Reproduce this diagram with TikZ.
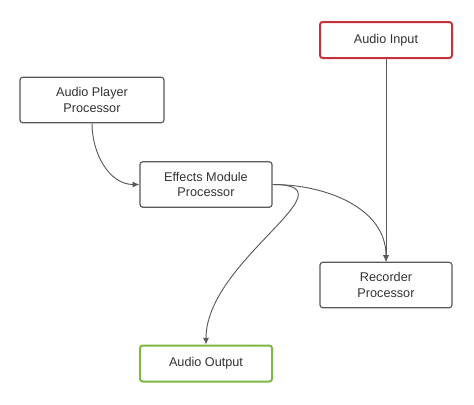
\documentclass[tikz,border=0pt]{standalone}
\usepackage{fontspec}
\setmainfont{Liberation Sans}
\usetikzlibrary{arrows.meta}
\definecolor{boxgray}{HTML}{5A5A5A}
\definecolor{inred}{HTML}{C8323C}
\definecolor{outgreen}{HTML}{7DB843}
\begin{document}
\begin{tikzpicture}[x=0.75pt,y=-0.75pt]
\useasboundingbox (0,0) rectangle (474,404);
\begin{scope}[every node/.style = {draw=boxgray, line width=0.9pt, rounded corners=2pt, fill=white,
  text=black!80, align=center, font=\fontsize{9.5}{11.5}\selectfont, inner sep=2pt}]
\node[draw=inred, line width=1.5pt, minimum width=99pt, minimum height=27pt] (input) at (386, 40) {Audio Input};
\node[minimum width=108pt, minimum height=34pt] (player) at (92, 100) {Audio Player\\Processor};
\node[minimum width=99pt, minimum height=34pt] (effects) at (206, 184.5) {Effects Module\\Processor};
\node[minimum width=99pt, minimum height=34pt] (recorder) at (386, 285) {Recorder\\Processor};
\node[draw=outgreen, line width=1.5pt, minimum width=99pt, minimum height=27pt] (output) at (206, 363.5) {Audio Output};
\end{scope}
\begin{scope}[every edge/.style = {draw=boxgray, line width=0.7pt, -{Latex[length=5pt, width=4.5pt]}}]
\path (player.south) edge[out=-90, in=180] (effects.west);
\path (input.south) edge (recorder.north);
\path (effects.east) edge[out=0, in=90] (recorder.north);
\path (effects.east) edge[out=0, in=90, looseness=1.25] (output.north);
\end{scope}
\end{tikzpicture}
\end{document}
